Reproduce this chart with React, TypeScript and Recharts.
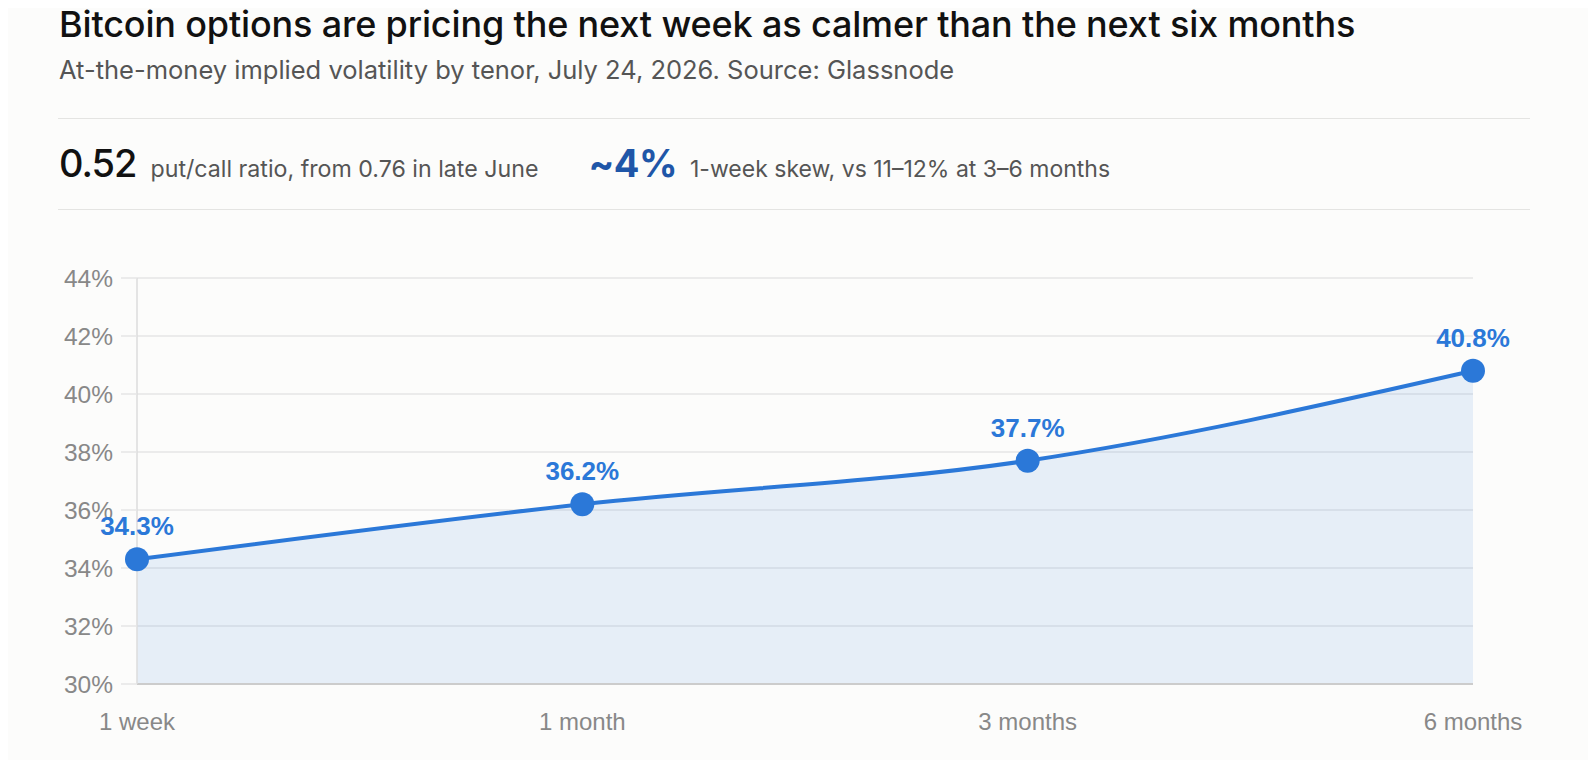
import React from 'react';
import { AreaChart, Area, XAxis, YAxis, CartesianGrid, LabelList } from 'recharts';

const tenors = ['1 week', '1 month', '3 months', '6 months'];
const atmVol = [34.3, 36.2, 37.7, 40.8];
const yTicks = [30, 32, 34, 36, 38, 40, 42, 44];

const data = tenors.map((tenor, i) => ({ tenor, vol: atmVol[i] }));

const BLUE = '#2b78d8';
const SANS = 'Inter, "Noto Sans", sans-serif';
const AXIS_FONT = '"Liberation Sans", Arial, sans-serif';

function PointLabel(props: any) {
  const { x, y, value } = props;
  return (
    <text
      x={x}
      y={y - 24}
      textAnchor="middle"
      fill={BLUE}
      fontSize={26}
      fontWeight={700}
      fontFamily={AXIS_FONT}
    >
      {`${value}%`}
    </text>
  );
}

export default function App() {
  return (
    <div
      style={{
        position: 'relative',
        margin: -8,
        width: 1596,
        height: 768,
        background: '#fcfcfb',
        fontFamily: SANS,
        overflow: 'hidden',
      }}
    >
      <div
        style={{
          position: 'absolute',
          left: 59,
          top: 2,
          fontSize: 36,
          fontWeight: 500,
          color: '#111',
          letterSpacing: -0.15,
          whiteSpace: 'nowrap',
        }}
      >
        Bitcoin options are pricing the next week as calmer than the next six months
      </div>
      <div
        style={{
          position: 'absolute',
          left: 59,
          top: 54,
          fontSize: 25.5,
          color: '#555',
          whiteSpace: 'nowrap',
        }}
      >
        At-the-money implied volatility by tenor, July 24, 2026. Source: Glassnode
      </div>

      <div style={{ position: 'absolute', left: 58, top: 118, width: 1472, height: 1, background: '#e4e4e2' }} />

      <div style={{ position: 'absolute', left: 59, top: 140, display: 'flex', alignItems: 'baseline', whiteSpace: 'nowrap' }}>
        <span style={{ fontSize: 38, fontWeight: 500, color: '#111', letterSpacing: -1 }}>0.52</span>
        <span style={{ fontSize: 23.2, color: '#555', marginLeft: 14 }}>put/call ratio, from 0.76 in late June</span>
        <span style={{ fontSize: 38, fontWeight: 700, color: '#1f56a8', marginLeft: 50, letterSpacing: -0.5 }}>~4%</span>
        <span style={{ fontSize: 23, color: '#555', marginLeft: 13 }}>1-week skew, vs 11–12% at 3–6 months</span>
      </div>

      <div style={{ position: 'absolute', left: 58, top: 209, width: 1472, height: 1, background: '#e4e4e2' }} />

      <div style={{ position: 'absolute', left: 58, top: 230 }}>
        <AreaChart width={1465} height={514} data={data} margin={{ top: 48, right: 50, bottom: 0, left: 0 }}>
          <CartesianGrid vertical={false} stroke="#e6e6e6" strokeWidth={1.5} />
          <XAxis
            dataKey="tenor"
            tickLine={false}
            axisLine={{ stroke: '#cccccc', strokeWidth: 2 }}
            tickSize={0}
            tickMargin={29}
            height={60}
            interval={0}
            tick={{ fill: '#888', fontSize: 24, fontFamily: AXIS_FONT }}
          />
          <YAxis
            domain={[30, 44]}
            ticks={yTicks}
            width={79}
            tickFormatter={(v: number) => `${v}%`}
            axisLine={{ stroke: '#dddddd', strokeWidth: 1.5 }}
            tickLine={{ stroke: '#e6e6e6', strokeWidth: 1.5 }}
            tickSize={16}
            tickMargin={8}
            tick={{ fill: '#888', fontSize: 24.5, fontFamily: AXIS_FONT }}
          />
          <Area
            type="monotone"
            dataKey="vol"
            stroke={BLUE}
            strokeWidth={4}
            fill={BLUE}
            fillOpacity={0.1}
            dot={{ r: 12, fill: BLUE, fillOpacity: 1, stroke: 'none' }}
            activeDot={false}
            isAnimationActive={false}
          >
            <LabelList dataKey="vol" content={PointLabel} />
          </Area>
        </AreaChart>
      </div>
    </div>
  );
}
